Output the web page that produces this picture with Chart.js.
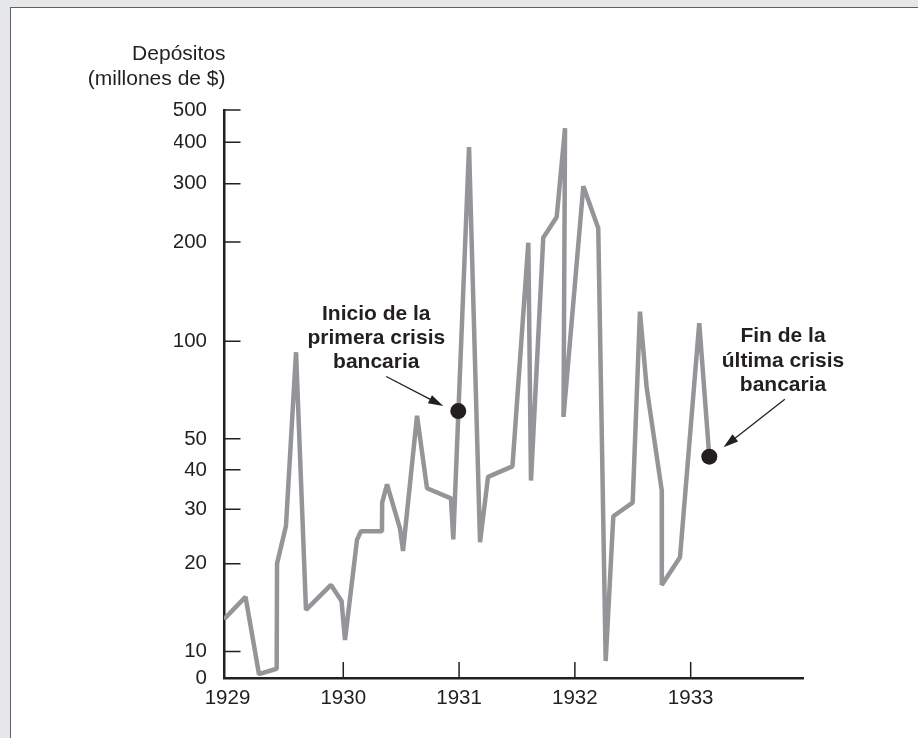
<!DOCTYPE html>
<html>
<head>
<meta charset="utf-8">
<script src="https://cdn.jsdelivr.net/npm/chart.js@4.4.1/dist/chart.umd.min.js"></script>
<style>
  html, body { margin: 0; padding: 0; width: 918px; height: 738px; overflow: hidden; background: #e6e7e8; }
  #panel { position: absolute; left: 10px; top: 6.5px; width: 908px; height: 732px; background: #ffffff;
           border-left: 1.5px solid #5f6062; border-top: 1.5px solid #5f6062; }
  #c { position: absolute; left: 0; top: 0; }
</style>
</head>
<body>
<div id="panel"></div>
<canvas id="c" width="918" height="738"></canvas>
<script>
// ---- data ----
const DATES = [1928.970, 1929.156, 1929.272, 1929.425, 1929.428, 1929.505, 1929.592, 1929.678,
               1929.894, 1929.985, 1930.015, 1930.119, 1930.153, 1930.334, 1930.336, 1930.378,
               1930.490, 1930.516, 1930.637, 1930.723, 1930.930, 1930.950, 1931.086, 1931.181,
               1931.250, 1931.461, 1931.598, 1931.621, 1931.727, 1931.843, 1931.915, 1931.902,
               1932.073, 1932.202, 1932.266, 1932.332, 1932.499, 1932.562, 1932.620, 1932.750,
               1932.751, 1932.908, 1933.074, 1933.161];
const DEPOSITS = [13, 15.5, 1.5, 3.5, 20, 26.5, 92.5, 14,
                  17, 15, 11, 24, 25.5, 25.5, 31.5, 36,
                  26, 22, 59, 35, 32.5, 24, 387, 23.5,
                  38, 41, 199, 37, 206, 238, 441, 58.5,
                  295, 220, 6.4, 28.5, 31.5, 123, 72, 34.5,
                  17, 21, 113.5, 44];
const DOT_DATES = [1930.993, 1933.161];
const DOT_VALUES = [61, 44];
const X_TICKS = [1929, 1930, 1931, 1932, 1933];
const Y_TICKS = [0, 10, 20, 30, 40, 50, 100, 200, 300, 400, 500];
const AXIS_TITLE = ['Depósitos', '(millones de $)'];
const NOTE_START = ['Inicio de la', 'primera crisis', 'bancaria'];
const NOTE_END = ['Fin de la', 'última crisis', 'bancaria'];

// ---- axis range ----
const X_MIN = 1928.97, X_MAX = 1933.97;
const Y_MIN = 0, Y_MAX = 500;

const INK = '#231f20';
const FAMILY = '"Liberation Sans", Arial, Helvetica, sans-serif';
Chart.defaults.font.family = FAMILY;

// Deposit scale: logarithmic (log10(v+2)) above 10, linear between 0 and 10
const LOG12 = Math.log10(12);
function depU(v) { return v >= 10 ? Math.log10(v + 2) : 1 + (v / 10) * (LOG12 - 1); }
function depInv(u) { return u >= LOG12 ? Math.pow(10, u) - 2 : (u - 1) * 10 / (LOG12 - 1); }

class DepositScale extends Chart.LinearScale {
  determineDataLimits() {
    this.min = this.options.min ?? Y_MIN;
    this.max = this.options.max ?? Y_MAX;
  }
  buildTicks() { return Y_TICKS.map(v => ({ value: v })); }
  configure() {
    super.configure();
    this._uMin = depU(this.min);
    this._uMax = depU(this.max);
  }
  getPixelForValue(v) {
    return this.getPixelForDecimal((depU(v) - this._uMin) / (this._uMax - this._uMin));
  }
  getValueForPixel(p) {
    return depInv(this._uMin + this.getDecimalForPixel(p) * (this._uMax - this._uMin));
  }
}
DepositScale.id = 'deposit';
Chart.register(DepositScale);

function arrow(ctx, x0, y0, x1, y1) {
  const a = Math.atan2(y1 - y0, x1 - x0);
  const L = 15, W = 4.5;
  const bx = x1 - L * Math.cos(a), by = y1 - L * Math.sin(a);
  ctx.beginPath();
  ctx.moveTo(x0, y0); ctx.lineTo(bx + 2 * Math.cos(a), by + 2 * Math.sin(a));
  ctx.stroke();
  ctx.beginPath();
  ctx.moveTo(x1, y1);
  ctx.lineTo(bx + W * Math.sin(a), by - W * Math.cos(a));
  ctx.lineTo(bx - W * Math.sin(a), by + W * Math.cos(a));
  ctx.closePath();
  ctx.fill();
}

const decor = {
  id: 'decor',
  afterDraw(chart) {
    const { ctx, scales: { x, y } } = chart;
    ctx.save();
    // inward tick marks
    ctx.strokeStyle = INK; ctx.lineWidth = 1.5;
    ctx.beginPath();
    Y_TICKS.slice(1).forEach(v => {
      const py = y.getPixelForValue(v);
      ctx.moveTo(x.left, py); ctx.lineTo(x.left + 16.5, py);
    });
    X_TICKS.slice(1).forEach(v => {
      const px = x.getPixelForValue(v);
      ctx.moveTo(px, y.bottom); ctx.lineTo(px, y.bottom - 16);
    });
    ctx.stroke();

    // axis title
    ctx.fillStyle = INK;
    ctx.font = '21px ' + FAMILY;
    ctx.textAlign = 'right'; ctx.textBaseline = 'alphabetic';
    ctx.fillText(AXIS_TITLE[0], x.left + 1.5, y.top - 50);
    ctx.fillText(AXIS_TITLE[1], x.left + 1.5, y.top - 25);

    // annotations
    ctx.font = 'bold 21px ' + FAMILY;
    ctx.textAlign = 'center';
    const p1 = { x: x.getPixelForValue(DOT_DATES[0]), y: y.getPixelForValue(DOT_VALUES[0]) };
    const p2 = { x: x.getPixelForValue(DOT_DATES[1]), y: y.getPixelForValue(DOT_VALUES[1]) };
    NOTE_START.forEach((t, i) => ctx.fillText(t, p1.x - 82, p1.y - 91.5 + i * 24));
    NOTE_END.forEach((t, i) => ctx.fillText(t, p2.x + 73.7, p2.y - 114.5 + i * 24.5));
    ctx.lineWidth = 1.3;
    arrow(ctx, p1.x - 72, p1.y - 34.5, p1.x - 15, p1.y - 5);
    arrow(ctx, p2.x + 75.5, p2.y - 57.5, p2.x + 14.2, p2.y - 9.5);
    ctx.restore();
  }
};

const lineData = DATES.map((d, i) => ({ x: d, y: DEPOSITS[i] }));
const dotData = DOT_DATES.map((d, i) => ({ x: d, y: DOT_VALUES[i] }));

new Chart(document.getElementById('c'), {
  type: 'scatter',
  data: {
    datasets: [
      { data: dotData, order: 0, showLine: false, pointRadius: 8, pointHoverRadius: 8,
        pointBackgroundColor: INK, pointBorderWidth: 0, borderColor: INK },
      { data: lineData, order: 1, showLine: true, pointRadius: 0, pointHoverRadius: 0,
        borderColor: '#939598', borderWidth: 4.5, borderJoinStyle: 'bevel', tension: 0, fill: false }
    ]
  },
  options: {
    responsive: false,
    animation: false,
    devicePixelRatio: 1,
    events: [],
    layout: { padding: { left: 174, right: 115, top: 110, bottom: 15 } },
    plugins: { legend: { display: false }, tooltip: { enabled: false }, title: { display: false } },
    scales: {
      x: {
        type: 'linear', position: 'bottom', min: X_MIN, max: X_MAX,
        afterBuildTicks: s => { s.ticks = X_TICKS.map(v => ({ value: v })); },
        afterFit: s => { s.height = 45; },
        grid: { display: true, drawOnChartArea: false, drawTicks: false },
        border: { display: true, color: INK, width: 2.5 },
        ticks: { autoSkip: false, maxRotation: 0, padding: 8, color: INK,
                 font: { family: FAMILY, size: 20.5 }, callback: v => String(v) }
      },
      y: {
        type: 'deposit', position: 'left', min: Y_MIN, max: Y_MAX,
        afterFit: s => { s.width = 50; },
        grid: { display: true, drawOnChartArea: false, drawTicks: false },
        border: { display: true, color: INK, width: 2.5 },
        ticks: { autoSkip: false, padding: 17, color: INK,
                 font: { family: FAMILY, size: 20.5 }, callback: v => String(v) }
      }
    }
  },
  plugins: [decor]
});
</script>
</body>
</html>
